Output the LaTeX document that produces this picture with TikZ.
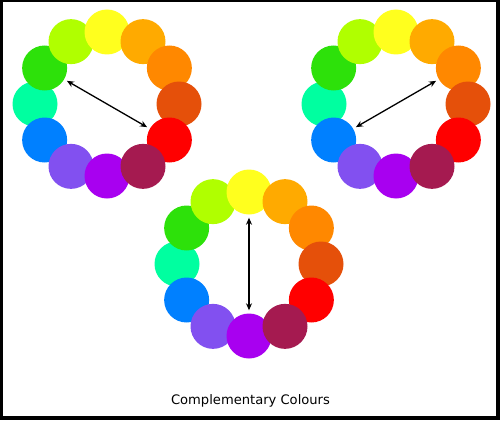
\documentclass[tikz,border=0pt]{standalone}
\usepackage{fontspec}
\setmainfont{DejaVu Sans}
\usetikzlibrary{arrows.meta,calc}
\definecolor{c0}{HTML}{FFFF1E}
\definecolor{c1}{HTML}{FFAA00}
\definecolor{c2}{HTML}{FF8800}
\definecolor{c3}{HTML}{E5500A}
\definecolor{c4}{HTML}{FF0000}
\definecolor{c5}{HTML}{A51A50}
\definecolor{c6}{HTML}{A800F0}
\definecolor{c7}{HTML}{8250F0}
\definecolor{c8}{HTML}{0080FF}
\definecolor{c9}{HTML}{00FFA0}
\definecolor{c10}{HTML}{2DE10A}
\definecolor{c11}{HTML}{B0FF00}
\begin{document}
\begin{tikzpicture}[x=1pt,y=-1pt,
  dot/.style={circle,minimum size=45pt,inner sep=0pt,draw=none},
  arr/.style={{Stealth[length=7pt,width=6pt]}-{Stealth[length=7pt,width=6pt]},line width=1.3pt,shorten >=3pt,shorten <=3pt}]
\useasboundingbox (0,0) rectangle (500,420);
\fill[black] (0,0) rectangle (500,420);
\fill[white] (3,2) rectangle (496,416);
\foreach \w/\cx/\cy in {L/107/104, R/396/104, B/249/264}{
  \foreach \k in {9,10,11,0,1,2,3,4,8,7,6,5}{
    \node[dot,fill=c\k] (\w\k) at ({\cx+72*cos(30*\k-90)},{\cy+72*sin(30*\k-90)}) {};
  }
}
\draw[arr] (L10) -- (L4);
\draw[arr] (R8) -- (R2);
\draw[arr] (B0) -- (B6);
\node[font=\fontsize{13.1}{15}\selectfont,anchor=base,inner sep=0pt] (title) at (250.5,404) {Complementary Colours};
\end{tikzpicture}
\end{document}
